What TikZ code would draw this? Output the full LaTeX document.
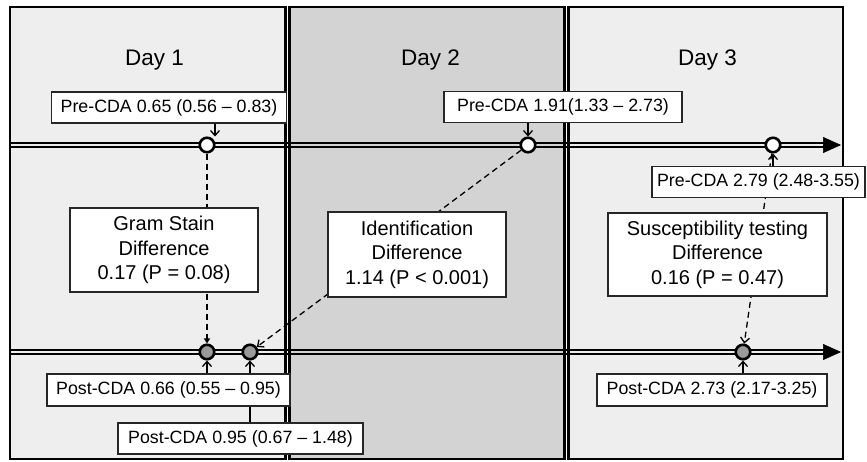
\documentclass[tikz,border=0pt]{standalone}
\usepackage{fontspec}
\setmainfont{Liberation Sans}
\usetikzlibrary{arrows.meta}
\definecolor{panellight}{HTML}{EEEEEE}
\definecolor{paneldark}{HTML}{D3D3D3}
\definecolor{dotgray}{HTML}{9A9A9A}
\pgfdeclarelayer{bg}
\pgfdeclarelayer{links}
\pgfsetlayers{bg,links,main}
\tikzset{
  panel/.style={draw=black, line width=2.4pt},
  daylabel/.style={anchor=base, font=\fontsize{22.5}{26}\selectfont},
  valbox/.style={draw=black!85, line width=1.1pt, fill=white, inner sep=0pt,
    font=\fontsize{17.8}{21}\selectfont},
  diffbox/.style={draw=black!85, line width=1.1pt, fill=white, inner sep=0pt,
    align=center, font=\fontsize{20}{24.5}\selectfont},
  rail/.style={line width=1.7pt},
  railhead/.style={line width=0.5pt, -{Triangle[length=18pt,width=16pt]}},
  opendot/.style={circle, draw=black, line width=2.6pt, fill=white,
    minimum size=14.5pt, inner sep=0pt},
  shadedot/.style={opendot, fill=dotgray},
  pointer/.style={line width=1.3pt, -{Straight Barb[length=5pt,width=9pt]}},
  diffline/.style={line width=1.3pt, dash pattern=on 6pt off 4pt},
}
\begin{document}
\begin{tikzpicture}[x=1pt, y=-1pt]
  \useasboundingbox (0,0) rectangle (867,461);

  % day panels and the two time rails
  \begin{pgfonlayer}{bg}
    \draw[panel, fill=panellight] (10,7) rectangle (285.5,459);
    \draw[panel, fill=paneldark] (289.5,7) rectangle (564.5,459);
    \draw[panel, fill=panellight] (568.5,7) rectangle (843,459);
    \coordinate (preS) at (10,145);
    \coordinate (preE) at (841,145);
    \coordinate (postS) at (10,352);
    \coordinate (postE) at (841,352);
    \foreach \s/\e in {preS/preE, postS/postE} {
      \draw[rail] ([yshift=-1.8pt]\s) -- ([xshift=-16pt,yshift=-1.8pt]\e);
      \draw[rail] ([yshift=1.8pt]\s) -- ([xshift=-16pt,yshift=1.8pt]\e);
      \draw[railhead] ([xshift=-18pt]\e) -- (\e);
    }
  \end{pgfonlayer}

  % day headings
  \node[daylabel] (day1) at (154.5,65) {Day 1};
  \node[daylabel] (day2) at (430.5,65) {Day 2};
  \node[daylabel] (day3) at (707.5,65) {Day 3};

  % time points before and after CDA
  \node[opendot] (c1) at (207,145) {};
  \node[opendot] (c2) at (528,145) {};
  \node[opendot] (c3) at (773,145) {};
  \node[shadedot] (d1) at (207,352) {};
  \node[shadedot] (d2) at (250,352) {};
  \node[shadedot] (d3) at (743,352) {};

  % value labels
  \node[valbox, minimum width=235pt, minimum height=31pt] (pre1) at (169,107.5)
    {Pre-CDA 0.65 (0.56 – 0.83)};
  \node[valbox, minimum width=238pt, minimum height=31pt] (pre2) at (563,107)
    {Pre-CDA 1.91(1.33 – 2.73)};
  \node[valbox, minimum width=213pt, minimum height=31pt] (pre3) at (758.5,182)
    {Pre-CDA 2.79 (2.48-3.55)};
  \node[valbox, minimum width=243pt, minimum height=32pt] (post1) at (168.5,390)
    {Post-CDA 0.66 (0.55 – 0.95)};
  \node[valbox, minimum width=245pt, minimum height=31pt] (post2) at (240.5,438.5)
    {Post-CDA 0.95 (0.67 – 1.48)};
  \node[valbox, minimum width=230pt, minimum height=32pt] (post3) at (712,390)
    {Post-CDA 2.73 (2.17-3.25)};

  % differences
  \node[diffbox, minimum width=188pt, minimum height=84pt] (gram) at (164,250)
    {Gram Stain\\Difference\\0.17 (P = 0.08)};
  \node[diffbox, minimum width=178pt, minimum height=85pt] (ident) at (417,254.5)
    {Identification\\Difference\\1.14 (P \textless{} 0.001)};
  \node[diffbox, minimum width=219pt, minimum height=83pt] (susc) at (717.5,254.5)
    {Susceptibility testing\\Difference\\0.16 (P = 0.47)};

  % connectors, kept behind the boxes
  \begin{pgfonlayer}{links}
    \draw[diffline, -{Triangle[length=5pt,width=6pt]}] (c1.south) -- (d1.north);
    \draw[diffline, -{Straight Barb[length=5pt,width=9pt]}] (c2) -- (d2);
    \draw[diffline, -{Straight Barb[length=5pt,width=9pt]}] (c3) -- (d3);
    \coordinate (p1) at ([xshift=8pt]c1.north);
    \draw[pointer] (pre1.south -| p1) -- (p1);
    \draw[pointer] (pre2.south -| c2) -- (c2.north);
    \draw[pointer] (pre3.north -| c3) -- (c3.south);
    \draw[pointer] (post1.north -| d1) -- (d1.south);
    \draw[pointer] (post2.north -| d2) -- (d2.south);
    \draw[pointer] (post3.north -| d3) -- (d3.south);
  \end{pgfonlayer}
\end{tikzpicture}
\end{document}
